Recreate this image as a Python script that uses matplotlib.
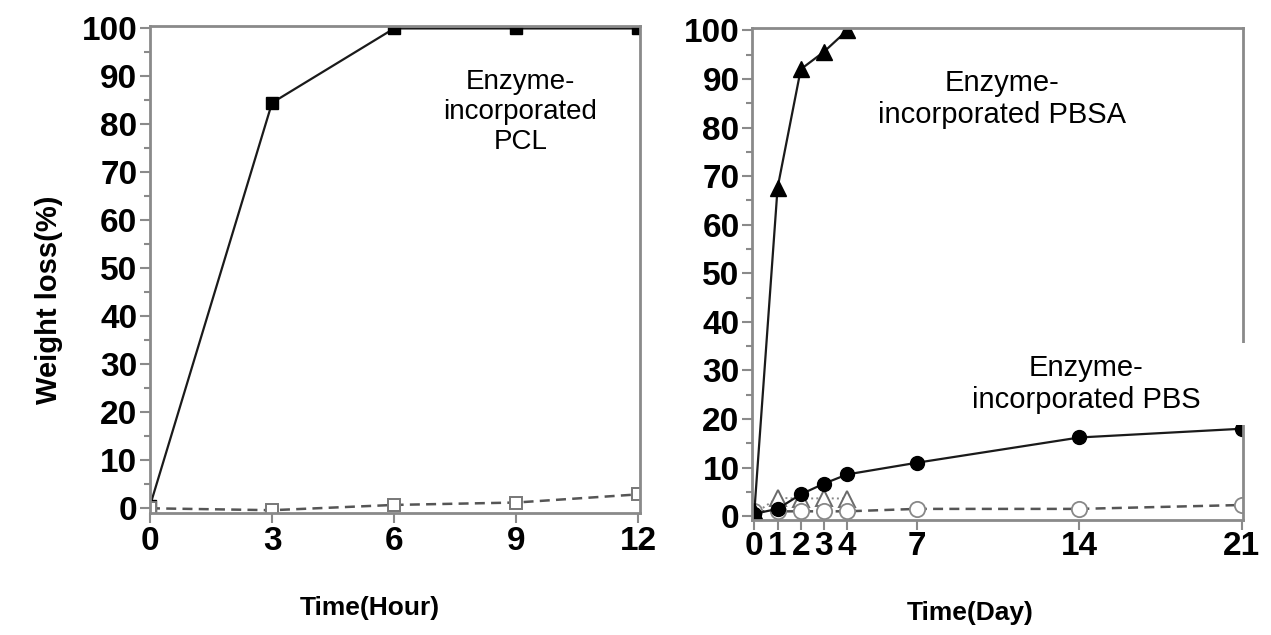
import matplotlib as mpl

mpl.use("Agg")
import matplotlib.pyplot as plt
from matplotlib.patches import Rectangle

plt.rcParams["font.family"] = ["Liberation Sans", "DejaVu Sans"]

# ---- data --------------------------------------------------------------
hours = [0, 3, 6, 9, 12]
pcl_enzyme = [0.5, 84.5, 100, 100, 100]
pcl_control = [0.0, -0.4, 0.7, 1.2, 2.9]

days = [0, 1, 2, 3, 4, 7, 14, 21]
pbsa_days = [0, 1, 2, 3, 4]
pbsa_enzyme = [1.0, 67.6, 92.0, 95.6, 100]
pbsa_control = [0.5, 3.8, 3.6, 3.7, 3.6]
pbs_enzyme = [0.5, 1.5, 4.5, 6.7, 8.6, 11.0, 16.2, 18.0]
pbs_control = [1.0, 1.0, 1.0, 1.0, 1.0, 1.5, 1.5, 2.3]

hour_ticks = [0, 3, 6, 9, 12]
day_ticks = [0, 1, 2, 3, 4, 7, 14, 21]
y_ticks = list(range(0, 101, 10))

SPINE = "#8a8a8a"
LINE = "#1a1a1a"
CTRL = "#555555"


def style_axes(ax):
    for s in ax.spines.values():
        s.set_color(SPINE)
        s.set_linewidth(2)
    ax.set_yticks(y_ticks)
    ax.set_yticks(range(5, 100, 10), minor=True)
    ax.tick_params(which="both", direction="out", color=SPINE, width=1.5)
    ax.tick_params(which="major", length=7, labelsize=24, pad=2)
    ax.tick_params(which="minor", length=4)
    ax.tick_params(axis="x", which="minor", bottom=False)
    for lab in ax.get_xticklabels() + ax.get_yticklabels():
        lab.set_fontweight("bold")


fig = plt.figure(figsize=(12.71, 6.35), dpi=100)
ax1 = fig.add_axes([0.118, 0.192, 0.3855, 0.767])
ax2 = fig.add_axes([0.5917, 0.181, 0.3863, 0.775])

# ---- left: PCL -----------------------------------------------------------
ax1.plot(hours, pcl_enzyme, color=LINE, lw=1.6, marker="s", ms=9,
         mfc="black", mec="black")
ax1.plot(hours, pcl_control, color=CTRL, lw=1.8, ls=(0, (4, 2.5)), marker="s",
         ms=9, mfc="white", mec="#777777", mew=1.4)
ax1.set_xlim(0, 12.04)
ax1.set_ylim(-1.0, 100.5)
ax1.set_xticks(hour_ticks)
style_axes(ax1)
ax1.text(9.1, 82.5, "Enzyme-\nincorporated\nPCL", ha="center", va="center",
         fontsize=20, linespacing=1.2)
ax1.set_ylabel("Weight loss(%)", fontsize=21, fontweight="bold")
ax1.yaxis.set_label_coords(-0.177, 0.437)
ax1.set_xlabel("Time(Hour)", fontsize=19, fontweight="bold")
ax1.xaxis.set_label_coords(0.449, -0.17)

# ---- right: PBSA / PBS ---------------------------------------------------
ax2.plot(pbsa_days, pbsa_control, color="#888888", lw=1.4, ls=":", marker="^",
         ms=11, mfc="white", mec="#6a6a6a", mew=1.4)
ax2.plot(days, pbs_control, color=CTRL, lw=1.8, ls=(0, (4, 2.5)), marker="o",
         ms=11, mfc="white", mec="#888888", mew=1.3)
ax2.plot(pbsa_days, pbsa_enzyme, color=LINE, lw=1.6, marker="^", ms=11,
         mfc="black", mec="black")
ax2.plot(days, pbs_enzyme, color=LINE, lw=1.6, marker="o", ms=10,
         mfc="black", mec="black")
ax2.set_xlim(-0.1, 21.05)
ax2.set_ylim(-0.8, 100.5)
ax2.set_xticks(day_ticks)
style_axes(ax2)
ax2.tick_params(axis="x", pad=1)
ax2.text(10.65, 85.9, "Enzyme-\nincorporated PBSA", ha="center", va="center",
         fontsize=21, linespacing=1.15)
# white patch behind the PBS label (it hides part of the right spine)
ax2.add_patch(Rectangle((0.42, 0.193), 0.59, 0.167, transform=ax2.transAxes,
                        facecolor="white", edgecolor="none", clip_on=False,
                        zorder=3))
ax2.text(14.3, 27.2, "Enzyme-\nincorporated PBS", ha="center", va="center",
         fontsize=21, linespacing=1.15, zorder=4)
ax2.set_xlabel("Time(Day)", fontsize=19, fontweight="bold")
ax2.xaxis.set_label_coords(0.444, -0.165)

fig.savefig("out.png", dpi=100)
